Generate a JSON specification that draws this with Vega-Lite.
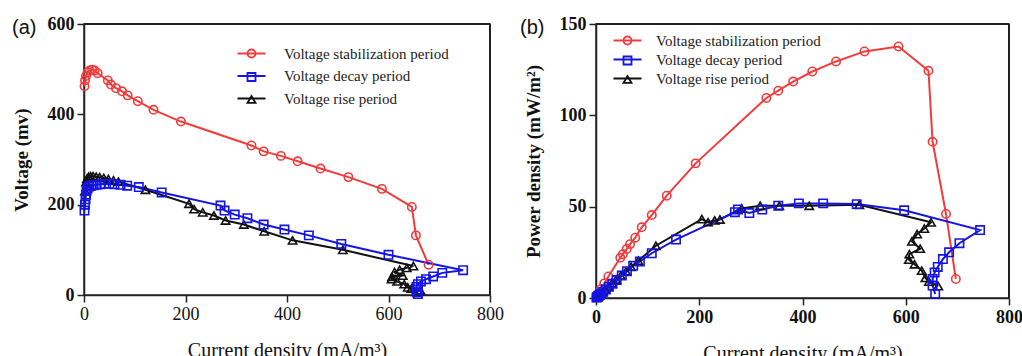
{
  "$schema": "https://vega.github.io/schema/vega-lite/v6.json",
  "padding": {"left": 11, "top": 14, "right": 0, "bottom": 0},
  "background": "white",
  "spacing": 14,
  "datasets": {
    "a": [
      {"period": "Voltage stabilization period", "I": 1, "V": 462},
      {"period": "Voltage stabilization period", "I": 2, "V": 475},
      {"period": "Voltage stabilization period", "I": 4, "V": 485},
      {"period": "Voltage stabilization period", "I": 7, "V": 493},
      {"period": "Voltage stabilization period", "I": 11, "V": 497},
      {"period": "Voltage stabilization period", "I": 16, "V": 499},
      {"period": "Voltage stabilization period", "I": 21, "V": 497},
      {"period": "Voltage stabilization period", "I": 27, "V": 491},
      {"period": "Voltage stabilization period", "I": 47, "V": 475},
      {"period": "Voltage stabilization period", "I": 53, "V": 466},
      {"period": "Voltage stabilization period", "I": 63, "V": 458},
      {"period": "Voltage stabilization period", "I": 75, "V": 451},
      {"period": "Voltage stabilization period", "I": 86, "V": 442},
      {"period": "Voltage stabilization period", "I": 106, "V": 429},
      {"period": "Voltage stabilization period", "I": 137, "V": 410},
      {"period": "Voltage stabilization period", "I": 191, "V": 384},
      {"period": "Voltage stabilization period", "I": 330, "V": 331},
      {"period": "Voltage stabilization period", "I": 354, "V": 318},
      {"period": "Voltage stabilization period", "I": 388, "V": 308},
      {"period": "Voltage stabilization period", "I": 421, "V": 296},
      {"period": "Voltage stabilization period", "I": 466, "V": 280},
      {"period": "Voltage stabilization period", "I": 521, "V": 261},
      {"period": "Voltage stabilization period", "I": 587, "V": 235},
      {"period": "Voltage stabilization period", "I": 646, "V": 195},
      {"period": "Voltage stabilization period", "I": 654, "V": 132},
      {"period": "Voltage stabilization period", "I": 679, "V": 67},
      {"period": "Voltage rise period", "I": 2, "V": 230},
      {"period": "Voltage rise period", "I": 4, "V": 250},
      {"period": "Voltage rise period", "I": 6, "V": 258},
      {"period": "Voltage rise period", "I": 9, "V": 262},
      {"period": "Voltage rise period", "I": 13, "V": 263},
      {"period": "Voltage rise period", "I": 18, "V": 263},
      {"period": "Voltage rise period", "I": 24, "V": 262},
      {"period": "Voltage rise period", "I": 31, "V": 261},
      {"period": "Voltage rise period", "I": 39, "V": 259},
      {"period": "Voltage rise period", "I": 48, "V": 257},
      {"period": "Voltage rise period", "I": 58, "V": 254},
      {"period": "Voltage rise period", "I": 68, "V": 251},
      {"period": "Voltage rise period", "I": 121, "V": 233},
      {"period": "Voltage rise period", "I": 207, "V": 202},
      {"period": "Voltage rise period", "I": 217, "V": 190},
      {"period": "Voltage rise period", "I": 234, "V": 183},
      {"period": "Voltage rise period", "I": 256, "V": 176},
      {"period": "Voltage rise period", "I": 279, "V": 165},
      {"period": "Voltage rise period", "I": 315, "V": 156},
      {"period": "Voltage rise period", "I": 355, "V": 141},
      {"period": "Voltage rise period", "I": 411, "V": 121},
      {"period": "Voltage rise period", "I": 510, "V": 100},
      {"period": "Voltage rise period", "I": 649, "V": 64},
      {"period": "Voltage rise period", "I": 636, "V": 60},
      {"period": "Voltage rise period", "I": 622, "V": 56},
      {"period": "Voltage rise period", "I": 612, "V": 51},
      {"period": "Voltage rise period", "I": 628, "V": 43},
      {"period": "Voltage rise period", "I": 607, "V": 40},
      {"period": "Voltage rise period", "I": 606, "V": 35},
      {"period": "Voltage rise period", "I": 617, "V": 30},
      {"period": "Voltage rise period", "I": 631, "V": 24},
      {"period": "Voltage rise period", "I": 638, "V": 17},
      {"period": "Voltage rise period", "I": 645, "V": 14},
      {"period": "Voltage rise period", "I": 663, "V": 10},
      {"period": "Voltage decay period", "I": 1, "V": 187},
      {"period": "Voltage decay period", "I": 2, "V": 200},
      {"period": "Voltage decay period", "I": 3, "V": 212},
      {"period": "Voltage decay period", "I": 4, "V": 222},
      {"period": "Voltage decay period", "I": 5, "V": 230},
      {"period": "Voltage decay period", "I": 7, "V": 236},
      {"period": "Voltage decay period", "I": 10, "V": 240},
      {"period": "Voltage decay period", "I": 14, "V": 242},
      {"period": "Voltage decay period", "I": 19, "V": 243},
      {"period": "Voltage decay period", "I": 25, "V": 244},
      {"period": "Voltage decay period", "I": 32, "V": 245},
      {"period": "Voltage decay period", "I": 40, "V": 246},
      {"period": "Voltage decay period", "I": 50, "V": 246},
      {"period": "Voltage decay period", "I": 60, "V": 245},
      {"period": "Voltage decay period", "I": 72, "V": 244},
      {"period": "Voltage decay period", "I": 85, "V": 242},
      {"period": "Voltage decay period", "I": 108, "V": 239},
      {"period": "Voltage decay period", "I": 153, "V": 227},
      {"period": "Voltage decay period", "I": 269, "V": 198},
      {"period": "Voltage decay period", "I": 277, "V": 187},
      {"period": "Voltage decay period", "I": 297, "V": 178},
      {"period": "Voltage decay period", "I": 322, "V": 170},
      {"period": "Voltage decay period", "I": 354, "V": 156},
      {"period": "Voltage decay period", "I": 395, "V": 145},
      {"period": "Voltage decay period", "I": 443, "V": 132},
      {"period": "Voltage decay period", "I": 507, "V": 113},
      {"period": "Voltage decay period", "I": 600, "V": 89},
      {"period": "Voltage decay period", "I": 747, "V": 55},
      {"period": "Voltage decay period", "I": 706, "V": 49},
      {"period": "Voltage decay period", "I": 688, "V": 41},
      {"period": "Voltage decay period", "I": 674, "V": 35},
      {"period": "Voltage decay period", "I": 664, "V": 30},
      {"period": "Voltage decay period", "I": 658, "V": 24},
      {"period": "Voltage decay period", "I": 655, "V": 18},
      {"period": "Voltage decay period", "I": 655, "V": 12},
      {"period": "Voltage decay period", "I": 656, "V": 6},
      {"period": "Voltage decay period", "I": 658, "V": 2}
    ],
    "b": [
      {"period": "Voltage stabilization period", "I": 1, "P": 0.5},
      {"period": "Voltage stabilization period", "I": 5, "P": 2.5},
      {"period": "Voltage stabilization period", "I": 10, "P": 5},
      {"period": "Voltage stabilization period", "I": 16, "P": 8},
      {"period": "Voltage stabilization period", "I": 24, "P": 11.8},
      {"period": "Voltage stabilization period", "I": 47, "P": 22},
      {"period": "Voltage stabilization period", "I": 52, "P": 24},
      {"period": "Voltage stabilization period", "I": 59.5, "P": 26.8},
      {"period": "Voltage stabilization period", "I": 66, "P": 29.5},
      {"period": "Voltage stabilization period", "I": 76, "P": 33},
      {"period": "Voltage stabilization period", "I": 88.5, "P": 38.7},
      {"period": "Voltage stabilization period", "I": 108, "P": 45.4},
      {"period": "Voltage stabilization period", "I": 137, "P": 56},
      {"period": "Voltage stabilization period", "I": 193, "P": 73.7},
      {"period": "Voltage stabilization period", "I": 330, "P": 109.5},
      {"period": "Voltage stabilization period", "I": 353, "P": 113.5},
      {"period": "Voltage stabilization period", "I": 382, "P": 118.5},
      {"period": "Voltage stabilization period", "I": 419, "P": 124},
      {"period": "Voltage stabilization period", "I": 465, "P": 129.5},
      {"period": "Voltage stabilization period", "I": 520, "P": 135},
      {"period": "Voltage stabilization period", "I": 586, "P": 137.7},
      {"period": "Voltage stabilization period", "I": 644, "P": 124.4},
      {"period": "Voltage stabilization period", "I": 652, "P": 85.5},
      {"period": "Voltage stabilization period", "I": 678, "P": 46},
      {"period": "Voltage stabilization period", "I": 697, "P": 10.4},
      {"period": "Voltage rise period", "I": 2, "P": 0.5},
      {"period": "Voltage rise period", "I": 4, "P": 1},
      {"period": "Voltage rise period", "I": 6, "P": 1.5},
      {"period": "Voltage rise period", "I": 9, "P": 2.4},
      {"period": "Voltage rise period", "I": 13, "P": 3.4},
      {"period": "Voltage rise period", "I": 18, "P": 4.7},
      {"period": "Voltage rise period", "I": 24, "P": 6.3},
      {"period": "Voltage rise period", "I": 31, "P": 8.1},
      {"period": "Voltage rise period", "I": 39, "P": 10.1},
      {"period": "Voltage rise period", "I": 48, "P": 12.3},
      {"period": "Voltage rise period", "I": 58, "P": 14.7},
      {"period": "Voltage rise period", "I": 68, "P": 17.1},
      {"period": "Voltage rise period", "I": 82, "P": 20.4},
      {"period": "Voltage rise period", "I": 116, "P": 28.6},
      {"period": "Voltage rise period", "I": 205, "P": 43.2},
      {"period": "Voltage rise period", "I": 217, "P": 41.5},
      {"period": "Voltage rise period", "I": 230, "P": 42.5},
      {"period": "Voltage rise period", "I": 240, "P": 43},
      {"period": "Voltage rise period", "I": 282, "P": 49},
      {"period": "Voltage rise period", "I": 318, "P": 50.5},
      {"period": "Voltage rise period", "I": 355, "P": 50.5},
      {"period": "Voltage rise period", "I": 413, "P": 50.5},
      {"period": "Voltage rise period", "I": 510, "P": 51},
      {"period": "Voltage rise period", "I": 649, "P": 41.4},
      {"period": "Voltage rise period", "I": 636, "P": 38},
      {"period": "Voltage rise period", "I": 622, "P": 35},
      {"period": "Voltage rise period", "I": 612, "P": 31},
      {"period": "Voltage rise period", "I": 628, "P": 27},
      {"period": "Voltage rise period", "I": 607, "P": 24},
      {"period": "Voltage rise period", "I": 606, "P": 21},
      {"period": "Voltage rise period", "I": 617, "P": 18.5},
      {"period": "Voltage rise period", "I": 631, "P": 15},
      {"period": "Voltage rise period", "I": 638, "P": 11},
      {"period": "Voltage rise period", "I": 645, "P": 9},
      {"period": "Voltage rise period", "I": 663, "P": 6.5},
      {"period": "Voltage decay period", "I": 1, "P": 0.2},
      {"period": "Voltage decay period", "I": 2, "P": 0.4},
      {"period": "Voltage decay period", "I": 3, "P": 0.6},
      {"period": "Voltage decay period", "I": 4, "P": 0.9},
      {"period": "Voltage decay period", "I": 5, "P": 1.2},
      {"period": "Voltage decay period", "I": 7, "P": 1.7},
      {"period": "Voltage decay period", "I": 10, "P": 2.4},
      {"period": "Voltage decay period", "I": 14, "P": 3.4},
      {"period": "Voltage decay period", "I": 19, "P": 4.6},
      {"period": "Voltage decay period", "I": 25, "P": 6.1},
      {"period": "Voltage decay period", "I": 32, "P": 7.8},
      {"period": "Voltage decay period", "I": 40, "P": 9.8},
      {"period": "Voltage decay period", "I": 50, "P": 12.3},
      {"period": "Voltage decay period", "I": 60, "P": 14.7},
      {"period": "Voltage decay period", "I": 72, "P": 17.6},
      {"period": "Voltage decay period", "I": 85, "P": 20},
      {"period": "Voltage decay period", "I": 108, "P": 24.5},
      {"period": "Voltage decay period", "I": 155, "P": 32},
      {"period": "Voltage decay period", "I": 269, "P": 47},
      {"period": "Voltage decay period", "I": 275, "P": 48.5},
      {"period": "Voltage decay period", "I": 297, "P": 46.5},
      {"period": "Voltage decay period", "I": 322, "P": 48.4},
      {"period": "Voltage decay period", "I": 353, "P": 50.5},
      {"period": "Voltage decay period", "I": 393, "P": 51.8},
      {"period": "Voltage decay period", "I": 440, "P": 51.8},
      {"period": "Voltage decay period", "I": 505, "P": 51.4},
      {"period": "Voltage decay period", "I": 597, "P": 48},
      {"period": "Voltage decay period", "I": 744, "P": 37.2},
      {"period": "Voltage decay period", "I": 704, "P": 30},
      {"period": "Voltage decay period", "I": 684, "P": 25},
      {"period": "Voltage decay period", "I": 672, "P": 21.3},
      {"period": "Voltage decay period", "I": 662, "P": 17},
      {"period": "Voltage decay period", "I": 656, "P": 14},
      {"period": "Voltage decay period", "I": 652, "P": 10.4},
      {"period": "Voltage decay period", "I": 652, "P": 6.8},
      {"period": "Voltage decay period", "I": 657, "P": 2.2}
    ]
  },
  "hconcat": [
    {
      "width": 406,
      "height": 271,
      "title": {"text": "(a)", "anchor": "start", "frame": "group", "font": "Liberation Sans", "fontSize": 20, "fontWeight": "normal", "color": "#111", "dx": -72, "offset": -23},
      "data": {"name": "a"},
      "layer": [
        {
          "mark": {"type": "line", "strokeWidth": 2},
          "encoding": {
            "x": {"field": "I", "type": "quantitative", "scale": {"domain": [0, 800], "nice": false}, "axis": {"values": [0, 200, 400, 600, 800], "title": "Current density (mA/m³)", "labelFontWeight": "normal", "titleFontWeight": "normal", "titleFontSize": 20, "titlePadding": 17}},
            "y": {"field": "V", "type": "quantitative", "scale": {"domain": [0, 600], "nice": false}, "axis": {"values": [0, 200, 400, 600], "title": "Voltage (mv)", "titleFontWeight": "bold", "titlePadding": 16}},
            "stroke": {"field": "period", "type": "nominal", "sort": ["Voltage stabilization period", "Voltage decay period", "Voltage rise period"], "scale": {"range": ["#f03c3c", "#1414e6", "#111111"]}, "legend": {"orient": "none", "legendX": 146, "legendY": 22, "title": null, "symbolType": "M-3.5,0H3.5", "symbolSize": 64, "symbolStrokeWidth": 2, "symbolOffset": 14, "labelOffset": 25, "labelLimit": 400, "labelFont": "Liberation Serif", "labelFontSize": 15, "labelColor": "#222", "rowPadding": 6.5}},
            "order": {"value": null}
          }
        },
        {
          "mark": {"type": "point", "filled": false, "strokeWidth": 1.6, "size": 70, "opacity": 1},
          "encoding": {
            "x": {"field": "I", "type": "quantitative", "scale": {"domain": [0, 800], "nice": false}},
            "y": {"field": "V", "type": "quantitative", "scale": {"domain": [0, 600], "nice": false}},
            "color": {"field": "period", "type": "nominal", "scale": {"domain": ["Voltage stabilization period", "Voltage decay period", "Voltage rise period"], "range": ["#f03c3c", "#1414e6", "#111111"]}, "legend": {"orient": "none", "legendX": 146, "legendY": 22, "title": null, "symbolSize": 64, "symbolStrokeWidth": 1.8, "symbolOffset": 14, "labelOffset": 25, "labelLimit": 400, "labelFont": "Liberation Serif", "labelFontSize": 15, "labelOpacity": 0, "rowPadding": 6.5}},
            "shape": {"field": "period", "type": "nominal", "scale": {"domain": ["Voltage stabilization period", "Voltage decay period", "Voltage rise period"], "range": ["circle", "square", "triangle-up"]}, "legend": {"orient": "none", "legendX": 146, "legendY": 22, "title": null, "symbolSize": 64, "symbolStrokeWidth": 1.8, "symbolOffset": 14, "labelOffset": 25, "labelLimit": 400, "labelFont": "Liberation Serif", "labelFontSize": 15, "labelOpacity": 0, "rowPadding": 6.5}}
          }
        },
        {
          "mark": {"type": "rule", "stroke": "#222", "strokeWidth": 1.5},
          "encoding": {"y": {"datum": 600, "type": "quantitative"}}
        },
        {
          "mark": {"type": "rule", "stroke": "#222", "strokeWidth": 1.5},
          "encoding": {"x": {"datum": 800, "type": "quantitative"}}
        }
      ]
    },
    {
      "width": 413,
      "height": 274,
      "title": {"text": "(b)", "anchor": "start", "frame": "group", "font": "Liberation Sans", "fontSize": 20, "fontWeight": "normal", "color": "#111", "dx": -76, "offset": -23},
      "data": {"name": "b"},
      "layer": [
        {
          "mark": {"type": "line", "strokeWidth": 2},
          "encoding": {
            "x": {"field": "I", "type": "quantitative", "scale": {"domain": [0, 800], "nice": false}, "axis": {"values": [0, 200, 400, 600, 800], "title": "Current density (mA/m³)", "titleFontWeight": "normal", "titleFontSize": 20, "titlePadding": 17}},
            "y": {"field": "P", "type": "quantitative", "scale": {"domain": [0, 150], "nice": false}, "axis": {"values": [0, 50, 100, 150], "title": "Power density (mW/m²)", "titleFontWeight": "bold", "titlePadding": 16}},
            "stroke": {"field": "period", "type": "nominal", "sort": ["Voltage stabilization period", "Voltage decay period", "Voltage rise period"], "scale": {"range": ["#f03c3c", "#1414e6", "#111111"]}, "legend": {"orient": "none", "legendX": 10, "legendY": 9, "title": null, "symbolType": "M-3.5,0H3.5", "symbolSize": 64, "symbolStrokeWidth": 2, "symbolOffset": 14, "labelOffset": 21, "labelLimit": 400, "labelFont": "Liberation Serif", "labelFontSize": 15, "labelColor": "#222", "rowPadding": 3}},
            "order": {"value": null}
          }
        },
        {
          "mark": {"type": "point", "filled": false, "strokeWidth": 1.6, "size": 70, "opacity": 1},
          "encoding": {
            "x": {"field": "I", "type": "quantitative", "scale": {"domain": [0, 800], "nice": false}},
            "y": {"field": "P", "type": "quantitative", "scale": {"domain": [0, 150], "nice": false}},
            "color": {"field": "period", "type": "nominal", "scale": {"domain": ["Voltage stabilization period", "Voltage decay period", "Voltage rise period"], "range": ["#f03c3c", "#1414e6", "#111111"]}, "legend": {"orient": "none", "legendX": 10, "legendY": 9, "title": null, "symbolSize": 64, "symbolStrokeWidth": 1.8, "symbolOffset": 14, "labelOffset": 21, "labelLimit": 400, "labelFont": "Liberation Serif", "labelFontSize": 15, "labelOpacity": 0, "rowPadding": 3}},
            "shape": {"field": "period", "type": "nominal", "scale": {"domain": ["Voltage stabilization period", "Voltage decay period", "Voltage rise period"], "range": ["circle", "square", "triangle-up"]}, "legend": {"orient": "none", "legendX": 10, "legendY": 9, "title": null, "symbolSize": 64, "symbolStrokeWidth": 1.8, "symbolOffset": 14, "labelOffset": 21, "labelLimit": 400, "labelFont": "Liberation Serif", "labelFontSize": 15, "labelOpacity": 0, "rowPadding": 3}}
          }
        },
        {
          "mark": {"type": "rule", "stroke": "#222", "strokeWidth": 1.5},
          "encoding": {"y": {"datum": 150, "type": "quantitative"}}
        },
        {
          "mark": {"type": "rule", "stroke": "#222", "strokeWidth": 1.5},
          "encoding": {"x": {"datum": 800, "type": "quantitative"}}
        }
      ]
    }
  ],
  "resolve": {"scale": {"color": "independent", "shape": "independent", "stroke": "independent"}, "legend": {"color": "independent", "shape": "independent", "stroke": "independent"}},
  "config": {
    "view": {"stroke": "#222", "strokeWidth": 1.5},
    "font": "Liberation Serif",
    "axis": {"domainColor": "#222", "domainWidth": 1.5, "tickColor": "#222", "tickWidth": 1.5, "tickSize": 7, "grid": false, "labelFlush": false, "labelFont": "Liberation Serif", "labelFontSize": 18, "labelFontWeight": "bold", "labelColor": "#111", "labelPadding": 3, "titleFont": "Liberation Serif", "titleFontSize": 19, "titleColor": "#111"}
  }
}
